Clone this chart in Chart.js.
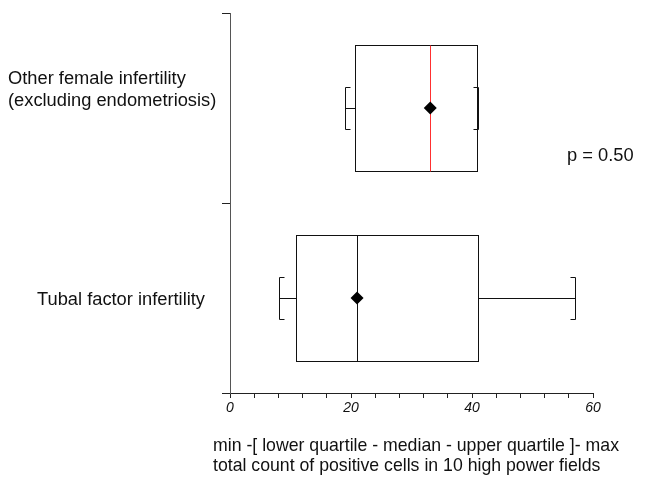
<!DOCTYPE html>
<html>
<head>
<meta charset="utf-8">
<script src="https://cdn.jsdelivr.net/npm/chart.js@4"></script>
<style>
  html, body { margin: 0; padding: 0; background: #fff; }
  canvas { display: block; }
</style>
</head>
<body>
<canvas id="boxChart" width="646" height="480"></canvas>
<script>
const categories = [
  ["Other female infertility", "(excluding endometriosis)"],
  ["Tubal factor infertility"]
];
const mins = [19.0, 8.1];
const lowerQuartiles = [20.7, 10.9];
const medians = [33.1, 21.0];
const upperQuartiles = [40.8, 41.0];
const maxs = [41.0, 57.0];
const means = [33.1, 21.0];
const medianColors = ["#ff3030", "#111"];
const xTickLabels = [0, 20, 40, 60];
const pValueText = "p = 0.50";
const xTitleLines = [
  "min -[ lower quartile - median - upper quartile ]- max",
  "total count of positive cells in 10 high power fields"
];

const FONT = "'Liberation Sans', Arial, Helvetica, sans-serif";
const INK = "#111";

// box outline, whiskers, median line and mean diamond on top of the floating bars
const boxPlotExtras = {
  id: "boxPlotExtras",
  afterDatasetsDraw(chart) {
    const ctx = chart.ctx;
    const x = chart.scales.x;
    const meta = chart.getDatasetMeta(0);
    ctx.save();
    meta.data.forEach((bar, i) => {
      const y = Math.round(bar.y) + 0.5;
      const h = bar.height;
      const top = Math.round(bar.y - h / 2) + 0.5;
      const bottom = Math.round(bar.y + h / 2) - 0.5;
      const capHalf = 21, foot = 5;
      const px = v => Math.round(x.getPixelForValue(v)) + 0.5;

      ctx.lineWidth = 1;
      ctx.strokeStyle = INK;
      // box
      ctx.strokeRect(px(lowerQuartiles[i]), top,
        px(upperQuartiles[i]) - px(lowerQuartiles[i]), bottom - top);

      ctx.beginPath();
      // left whisker + bracket
      ctx.moveTo(px(mins[i]), y); ctx.lineTo(px(lowerQuartiles[i]), y);
      ctx.moveTo(px(mins[i]) + foot, y - capHalf);
      ctx.lineTo(px(mins[i]), y - capHalf);
      ctx.lineTo(px(mins[i]), y + capHalf);
      ctx.lineTo(px(mins[i]) + foot, y + capHalf);
      // right whisker + bracket
      ctx.moveTo(px(upperQuartiles[i]), y); ctx.lineTo(px(maxs[i]), y);
      ctx.moveTo(px(maxs[i]) - foot, y - capHalf);
      ctx.lineTo(px(maxs[i]), y - capHalf);
      ctx.lineTo(px(maxs[i]), y + capHalf);
      ctx.lineTo(px(maxs[i]) - foot, y + capHalf);
      ctx.stroke();

      // median
      ctx.strokeStyle = medianColors[i];
      ctx.beginPath();
      ctx.moveTo(px(medians[i]), top);
      ctx.lineTo(px(medians[i]), bottom);
      ctx.stroke();

      // mean diamond
      const mx = x.getPixelForValue(means[i]), d = 6.5;
      ctx.fillStyle = "#000";
      ctx.beginPath();
      ctx.moveTo(mx, bar.y - d);
      ctx.lineTo(mx + d, bar.y);
      ctx.lineTo(mx, bar.y + d);
      ctx.lineTo(mx - d, bar.y);
      ctx.closePath();
      ctx.fill();
    });
    ctx.restore();
  },
  afterDraw(chart) {
    const ctx = chart.ctx;
    const meta = chart.getDatasetMeta(0);
    ctx.save();
    ctx.fillStyle = "#111";
    ctx.font = "18.3px " + FONT;
    ctx.textAlign = "left";
    ctx.textBaseline = "middle";

    // category labels
    const labelX = [8, 37];
    const labelShift = [-18, 2];
    meta.data.forEach((bar, i) => {
      const lines = categories[i];
      const lh = 22;
      const top = bar.y + labelShift[i] - (lines.length - 1) * lh / 2;
      lines.forEach((t, k) => ctx.fillText(t, labelX[i], top + k * lh));
    });

    // p value
    ctx.fillText(pValueText, 567, 156);

    // x axis description
    ctx.font = "17.7px " + FONT;
    xTitleLines.forEach((t, k) => ctx.fillText(t, 213, 446 + k * 20));
    ctx.restore();
  }
};

new Chart(document.getElementById("boxChart"), {
  type: "bar",
  data: {
    labels: categories,
    datasets: [{
      data: lowerQuartiles.map((q, i) => [q, upperQuartiles[i]]),
      backgroundColor: "#fff",
      borderWidth: 0,
      barThickness: 127
    }]
  },
  options: {
    indexAxis: "y",
    responsive: false,
    animation: false,
    layout: { padding: { top: 13, right: 53, left: 0, bottom: 0 } },
    plugins: {
      legend: { display: false },
      tooltip: { enabled: false }
    },
    scales: {
      x: {
        type: "linear",
        min: 0,
        max: 60,
        afterFit: s => { s.height = 87; },
        border: { color: "#222", width: 1 },
        grid: { drawOnChartArea: false, tickLength: 5, color: "#222" },
        ticks: {
          stepSize: 4,
          autoSkip: false,
          maxRotation: 0,
          padding: 2,
          color: "#111",
          font: { family: FONT, size: 14, style: "italic" },
          callback: v => xTickLabels.includes(v) ? v : ""
        }
      },
      y: {
        afterFit: s => { s.width = 230; },
        border: { color: "#555", width: 1 },
        grid: { drawOnChartArea: false, tickLength: 8, color: "#222", offset: true },
        ticks: { display: false }
      }
    }
  },
  plugins: [boxPlotExtras]
});
</script>
</body>
</html>
